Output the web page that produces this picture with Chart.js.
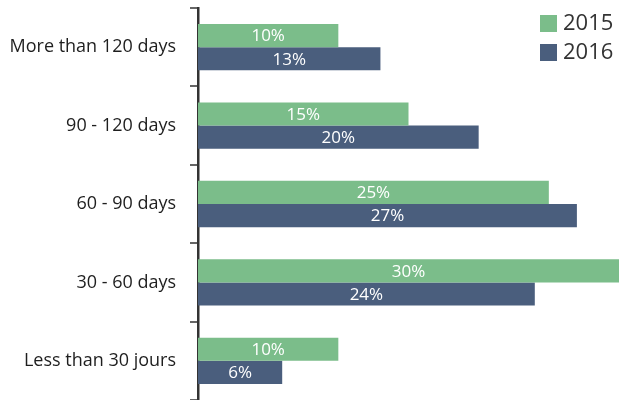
<!DOCTYPE html>
<html>
<head>
<meta charset="utf-8">
<script src="https://cdn.jsdelivr.net/npm/chart.js@4/dist/chart.umd.min.js"></script>
<style>
  html, body { margin: 0; padding: 0; background: #fff; }
</style>
</head>
<body>
<canvas id="plots" width="619" height="400"></canvas>
<script>
// délais de paiement, en %
const categorias = ["More than 120 days", "90 - 120 days", "60 - 90 days", "30 - 60 days", "Less than 30 jours"]
const valores2015 = [10, 15, 25, 30, 10]
const valores2016 = [13, 20, 27, 24, 6]
const anos = ["2015", "2016"]

const fonte = "'Open Sans', sans-serif"

// escreve o valor dentro de cada barra
const rotulos = {
  id: 'rotulos',
  afterDatasetsDraw(chart) {
    const ctx = chart.ctx
    ctx.save()
    ctx.fillStyle = '#fff'
    ctx.font = '500 17px ' + fonte
    ctx.textAlign = 'center'
    ctx.textBaseline = 'middle'
    chart.data.datasets.forEach((ds, i) => {
      chart.getDatasetMeta(i).data.forEach((bar, j) => {
        const meio = (bar.x + bar.base) / 2
        ctx.fillText(ds.data[j] + '%', meio, bar.y + 1)
      })
    })
    ctx.restore()
  }
}

// legenda no canto superior direito, por cima do gráfico
const legenda = {
  id: 'legenda',
  afterDraw(chart) {
    const ctx = chart.ctx
    ctx.save()
    ctx.font = '22px ' + fonte
    ctx.textBaseline = 'middle'
    chart.data.datasets.forEach((ds, i) => {
      const y = 24 + i * 29
      ctx.fillStyle = ds.backgroundColor
      ctx.fillRect(540, y - 9, 17, 17)
      ctx.fillStyle = '#333'
      ctx.fillText(ds.label, 563, y)
    })
    ctx.restore()
  }
}

const plots = document.getElementById("plots")
new Chart(plots, {
  type: 'bar',
  data: {
    labels: categorias,
    datasets: [
      { label: anos[0], data: valores2015, backgroundColor: '#7bbd8a' },
      { label: anos[1], data: valores2016, backgroundColor: '#4a5e7d' }
    ]
  },
  options: {
    indexAxis: 'y',
    responsive: false,
    animation: false,
    categoryPercentage: 0.59,
    barPercentage: 1.0,
    layout: { padding: { top: 8, right: 0, bottom: 0, left: 0 } },
    plugins: {
      legend: { display: false },
      tooltip: { enabled: false }
    },
    scales: {
      x: {
        display: false,
        min: 0,
        max: 30
      },
      y: {
        afterFit(scale) {
          scale.width = 198
          scale.paddingTop = 0
          scale.paddingBottom = 0
        },
        grid: {
          offset: true,
          drawOnChartArea: false,
          tickLength: 8,
          color: '#666',
          lineWidth: 2
        },
        border: { color: '#333', width: 2.5 },
        ticks: {
          color: '#1e1e1e',
          padding: 14,
          font: { family: fonte, size: 18, weight: '500' }
        }
      }
    }
  },
  plugins: [rotulos, legenda]
})
</script>
</body>
</html>
